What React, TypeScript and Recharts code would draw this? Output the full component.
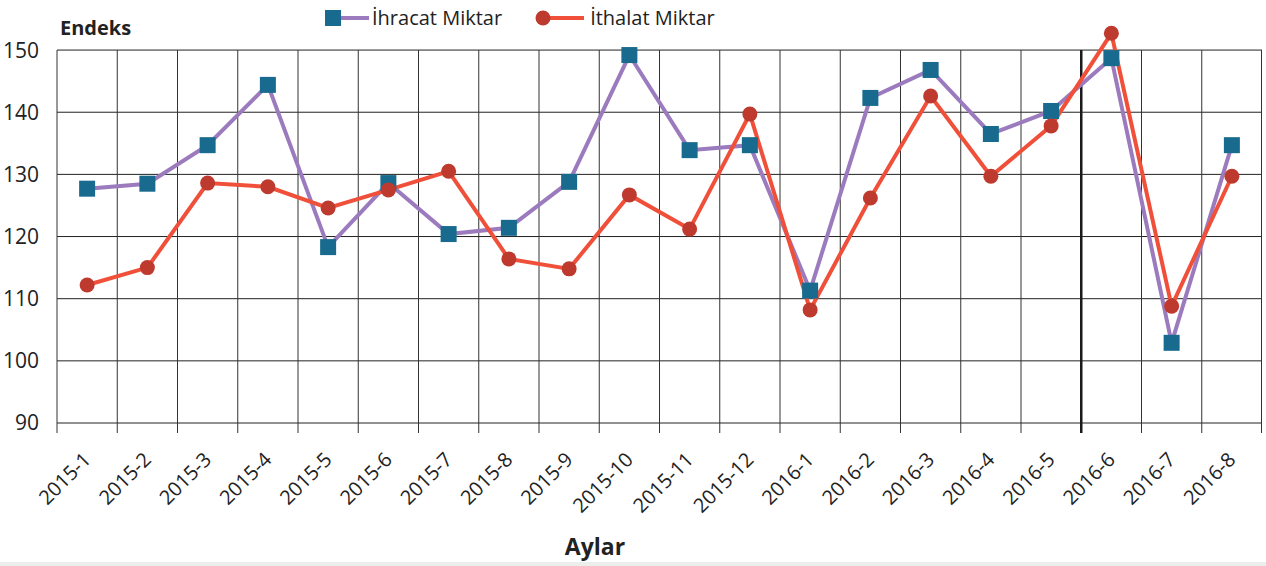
import React from 'react'
import { LineChart, Line, XAxis, YAxis, CartesianGrid } from 'recharts';

const months = [
  '2015-1', '2015-2', '2015-3', '2015-4', '2015-5', '2015-6', '2015-7', '2015-8', '2015-9', '2015-10',
  '2015-11', '2015-12', '2016-1', '2016-2', '2016-3', '2016-4', '2016-5', '2016-6', '2016-7', '2016-8',
];
const ihracat = [127.7, 128.5, 134.7, 144.4, 118.3, 128.6, 120.4, 121.4, 128.8, 149.2,
  133.9, 134.7, 111.3, 142.3, 146.8, 136.5, 140.2, 148.7, 102.9, 134.7];
const ithalat = [112.2, 115.0, 128.6, 128.0, 124.6, 127.5, 130.5, 116.4, 114.8, 126.7,
  121.2, 139.7, 108.2, 126.2, 142.6, 129.7, 137.8, 152.7, 108.8, 129.7];
const yTicks = [90, 100, 110, 120, 130, 140, 150];

const data = months.map((ay, i) => ({ ay, ihracat: ihracat[i], ithalat: ithalat[i] }));

const FONT = '"Open Sans", sans-serif';
const SQUARE = '#186b8e';
const PURPLE = '#9b7bbd';
const RED_LINE = '#f0503a';
const RED_DOT = '#bf3a2e';
const Y_MIN = 90;
const Y_TOP = 155; // a little headroom so the 2016-6 peak is not clipped

const SquareDot = (p: any) => (
  <rect key={`sq-${p.index}`} x={p.cx - 8} y={p.cy - 8} width={16} height={16} fill={SQUARE} />
);
const RoundDot = (p: any) => (
  <circle key={`ci-${p.index}`} cx={p.cx} cy={p.cy} r={7.5} fill={RED_DOT} />
);

// vertical grid at category borders, stopping at the 150 line, with a small tick below
const vLine = (p: any) => {
  const y150 = p.y1 + (p.y2 - p.y1) * (Y_TOP - 150) / (Y_TOP - Y_MIN);
  const thick = p.index === 17;
  const last = p.index === months.length - 1;
  const xr = p.x + p.width - 0.5;
  return (
    <g key={`v-${p.index}`}>
      <line x1={p.x1} x2={p.x2} y1={y150} y2={p.y2 + 10}
        stroke={thick ? '#1a1a1a' : '#333'} strokeWidth={thick ? 2.5 : 1} />
      {last && <line x1={xr} x2={xr} y1={y150} y2={p.y2 + 10} stroke="#333" strokeWidth={1} />}
    </g>
  );
};

// horizontal grid only at the value ticks (skip the headroom edge)
const hLine = (p: any) => {
  if (p.y1 < p.y + 2) return <g key={`h-${p.index}`} />;
  return <line key={`h-${p.index}`} x1={p.x1} x2={p.x2} y1={p.y1} y2={p.y2} stroke="#222" strokeWidth={1} />;
};

const MonthTick = (p: any) => (
  <text x={0} y={0} transform={`translate(${p.x + 5},${p.y + 30}) rotate(-45)`}
    textAnchor="end" fontSize={20} fill="#222" fontFamily={FONT}>
    {p.payload.value}
  </text>
);

const LegendBox = () => (
  <div style={{ position: 'absolute', left: 325, top: 4, display: 'flex', alignItems: 'center', fontFamily: FONT, fontSize: 20, color: '#222' }}>
    <svg width={44} height={20} style={{ flexShrink: 0 }}>
      <line x1={14} x2={44} y1={10} y2={10} stroke={PURPLE} strokeWidth={4} />
      <rect x={0} y={2} width={16} height={16} fill={SQUARE} />
    </svg>
    <span style={{ marginLeft: 3, marginRight: 32 }}>İhracat Miktar</span>
    <svg width={50} height={20} style={{ flexShrink: 0 }}>
      <line x1={8} x2={50} y1={10} y2={10} stroke={RED_LINE} strokeWidth={4} />
      <circle cx={9} cy={10} r={7.5} fill={RED_DOT} />
    </svg>
    <span style={{ marginLeft: 6 }}>İthalat Miktar</span>
  </div>
);

export default function App() {
  return (
    <div style={{ position: 'absolute', left: 0, top: 0, width: 1266, height: 566, background: '#fff', overflow: 'hidden' }}>
      <LineChart width={1266} height={566} data={data} margin={{ top: 19, right: 4, left: 0, bottom: 43 }}>
        <CartesianGrid
          stroke="#222"
          horizontal={hLine}
          verticalCoordinatesGenerator={({ offset }: any) =>
            Array.from({ length: months.length }, (_, i) => offset.left + (i * offset.width) / months.length)}
          vertical={vLine}
        />
        <XAxis dataKey="ay" scale="band" interval={0} height={100} tickLine={false} axisLine={false} tick={<MonthTick />} />
        <YAxis domain={[Y_MIN, Y_TOP]} ticks={yTicks} width={57} axisLine={false} tickLine={false} tickMargin={12}
          tick={{ fontSize: 21, fill: '#222', fontFamily: FONT }} />
        <Line type="linear" dataKey="ihracat" name="İhracat Miktar" stroke={PURPLE} strokeWidth={4}
          dot={SquareDot} activeDot={false} isAnimationActive={false} />
        <Line type="linear" dataKey="ithalat" name="İthalat Miktar" stroke={RED_LINE} strokeWidth={4}
          dot={RoundDot} activeDot={false} isAnimationActive={false} />
      </LineChart>
      <LegendBox />
      <div style={{ position: 'absolute', left: 60, top: 14, fontFamily: FONT, fontWeight: 700, fontSize: 20, color: '#222' }}>
        Endeks
      </div>
      <div style={{ position: 'absolute', left: 0, width: 1190, top: 530, textAlign: 'center', fontFamily: FONT, fontWeight: 700, fontSize: 23, color: '#222' }}>
        Aylar
      </div>
      <div style={{ position: 'absolute', left: 0, top: 562, width: 1266, height: 4, background: '#eceeec' }} />
    </div>
  );
}
